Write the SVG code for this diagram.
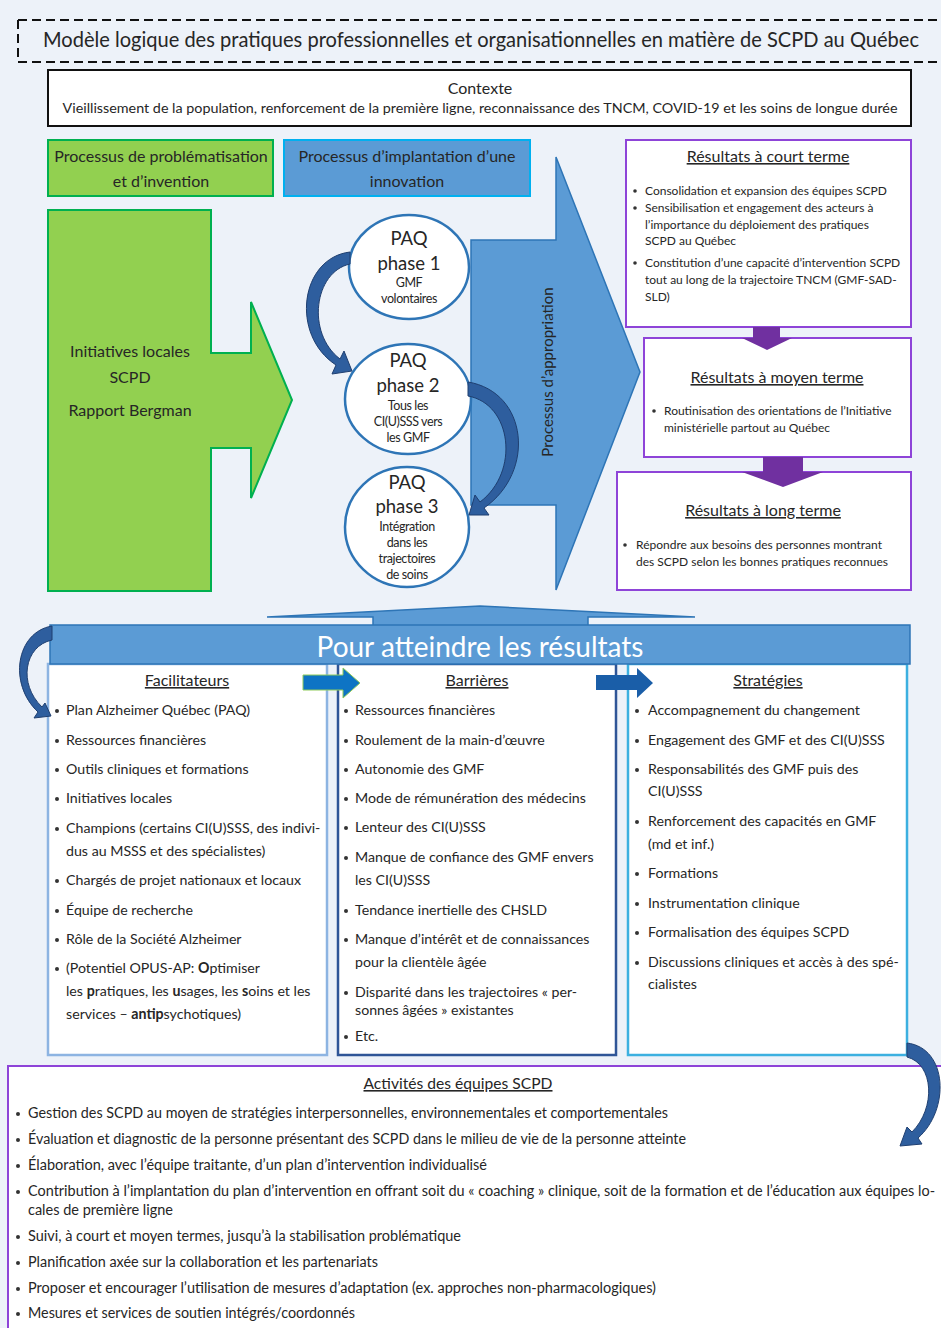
<svg xmlns="http://www.w3.org/2000/svg" width="941" height="1328" viewBox="0 0 941 1328">
<defs>
<style>
text{font-family:Lato,'Liberation Sans',sans-serif;fill:#262626}
.c{text-anchor:middle}
.li{font-size:14.2px}
.rs{font-size:12px}
.rt{font-size:16px;text-decoration:underline}
.ht{font-size:16px}
.act{font-size:14.5px}
.dot{fill:#333}
.circ{fill:#fff;stroke:#2E75B6;stroke-width:2.5}
.pa{font-size:18.5px}
.sm{font-size:12.5px;letter-spacing:-0.4px}
.res{fill:#fff;stroke:#8E44D8;stroke-width:2}
.curv{fill:#2E5E9E;stroke:#1F3F70;stroke-width:1}
.parr{fill:#7030A0}
.blue{fill:#5B9BD5;stroke:#2E75B6;stroke-width:1.5}
</style>
</defs>
<rect id="background" x="0" y="0" width="941" height="1328" fill="#EDF2F9"/>

<g id="title">
<path d="M18,20 H941 M18,62 H941 M18,20 V62" fill="none" stroke="#111" stroke-width="2" stroke-dasharray="9 5"/>
<text x="481" y="47" class="c" font-size="20.5" textLength="876" lengthAdjust="spacingAndGlyphs">Modèle logique des pratiques professionnelles et organisationnelles en matière de SCPD au Québec</text>
</g>

<g id="contexte">
<rect x="48" y="70" width="863" height="56" fill="#fff" stroke="#111" stroke-width="2"/>
<text x="480" y="94" class="c" font-size="16">Contexte</text>
<text x="480" y="113" class="c" font-size="14" textLength="835" lengthAdjust="spacingAndGlyphs">Vieillissement de la population, renforcement de la première ligne, reconnaissance des TNCM, COVID-19 et les soins de longue durée</text>
</g>

<g id="hdr-problematisation">
<rect x="48" y="140" width="225" height="56" fill="#92D050" stroke="#00B050" stroke-width="2"/>
<text x="161" y="162" class="c ht">Processus de problématisation</text>
<text x="161" y="187" class="c ht">et d’invention</text>
</g>

<g id="hdr-implantation">
<rect x="284" y="140" width="246" height="56" fill="#5B9BD5" stroke="#00B0F0" stroke-width="2"/>
<text x="407" y="162" class="c ht">Processus d’implantation d’une</text>
<text x="407" y="187" class="c ht">innovation</text>
</g>

<g id="initiatives">
<path d="M48,210 H211 V353 H251 V302 L292,400 L251,498 V448 H211 V591 H48 Z" fill="#92D050" stroke="#00B050" stroke-width="2"/>
<text x="130" y="357" class="c" font-size="16">Initiatives locales</text>
<text x="130" y="383" class="c" font-size="16">SCPD</text>
<text x="130" y="416" class="c" font-size="16">Rapport Bergman</text>
</g>

<g id="appropriation">
<path d="M471,240 H556 V157 L640,372 L556,590 V505 H471 Z" class="blue"/>
<text transform="translate(553,372) rotate(-90)" class="c" font-size="15">Processus d’appropriation</text>
</g>

<g id="paq1">
<ellipse cx="409" cy="267" rx="60" ry="52" class="circ"/>
<text x="409" y="245" class="c pa">PAQ</text>
<text x="409" y="270" class="c pa">phase 1</text>
<text x="409" y="287" class="c sm">GMF</text>
<text x="409" y="303" class="c sm">volontaires</text>
</g>

<g id="paq2">
<ellipse cx="408" cy="399" rx="63" ry="55" class="circ"/>
<text x="408" y="367" class="c pa">PAQ</text>
<text x="408" y="392" class="c pa">phase 2</text>
<text x="408" y="410" class="c sm">Tous les</text>
<text x="408" y="426" class="c sm">CI(U)SSS vers</text>
<text x="408" y="442" class="c sm">les GMF</text>
</g>

<g id="paq3">
<ellipse cx="407" cy="527" rx="62" ry="60" class="circ"/>
<text x="407" y="489" class="c pa">PAQ</text>
<text x="407" y="513" class="c pa">phase 3</text>
<text x="407" y="531" class="c sm">Intégration</text>
<text x="407" y="547" class="c sm">dans les</text>
<text x="407" y="563" class="c sm">trajectoires</text>
<text x="407" y="579" class="c sm">de soins</text>
</g>

<g id="court-terme">
<rect x="626" y="140" width="285" height="187" class="res"/>
<text x="768" y="162" class="c rt">Résultats à court terme</text>
<circle cx="635" cy="191" r="1.8" class="dot"/>
<text x="645" y="195" class="rs">Consolidation et expansion des équipes SCPD</text>
<circle cx="635" cy="208" r="1.8" class="dot"/>
<text x="645" y="212" class="rs">Sensibilisation et engagement des acteurs à</text>
<text x="645" y="229" class="rs">l’importance du déploiement des pratiques</text>
<text x="645" y="245" class="rs">SCPD au Québec</text>
<circle cx="635" cy="263" r="1.8" class="dot"/>
<text x="645" y="267" class="rs">Constitution d’une capacité d’intervention SCPD</text>
<text x="645" y="284" class="rs">tout au long de la trajectoire TNCM (GMF-SAD-</text>
<text x="645" y="301" class="rs">SLD)</text>
</g>

<g id="moyen-terme">
<rect x="644" y="338" width="267" height="119" class="res"/>
<text x="777" y="383" class="c rt">Résultats à moyen terme</text>
<circle cx="654" cy="411" r="1.8" class="dot"/>
<text x="664" y="415" class="rs">Routinisation des orientations de l’Initiative</text>
<text x="664" y="432" class="rs">ministérielle partout au Québec</text>
</g>

<g id="long-terme">
<rect x="617" y="472" width="294" height="118" class="res"/>
<text x="763" y="516" class="c rt">Résultats à long terme</text>
<circle cx="625" cy="545" r="1.8" class="dot"/>
<text x="636" y="549" class="rs">Répondre aux besoins des personnes montrant</text>
<text x="636" y="566" class="rs">des SCPD selon les bonnes pratiques reconnues</text>
</g>

<g id="facilitateurs">
<rect x="48" y="664" width="279" height="391" fill="#fff" stroke="#8DB4E2" stroke-width="2.5"/>
<text x="187" y="686" class="c ht" style="text-decoration:underline">Facilitateurs</text>
<circle cx="57" cy="711" r="2" class="dot"/><text x="66" y="715" class="li">Plan Alzheimer Québec (PAQ)</text>
<circle cx="57" cy="741" r="2" class="dot"/><text x="66" y="745" class="li">Ressources financières</text>
<circle cx="57" cy="770" r="2" class="dot"/><text x="66" y="774" class="li">Outils cliniques et formations</text>
<circle cx="57" cy="799" r="2" class="dot"/><text x="66" y="803" class="li">Initiatives locales</text>
<circle cx="57" cy="829" r="2" class="dot"/><text x="66" y="833" class="li">Champions (certains CI(U)SSS, des indivi-</text>
<text x="66" y="856" class="li">dus au MSSS et des spécialistes)</text>
<circle cx="57" cy="881" r="2" class="dot"/><text x="66" y="885" class="li">Chargés de projet nationaux et locaux</text>
<circle cx="57" cy="911" r="2" class="dot"/><text x="66" y="915" class="li">Équipe de recherche</text>
<circle cx="57" cy="940" r="2" class="dot"/><text x="66" y="944" class="li">Rôle de la Société Alzheimer</text>
<circle cx="57" cy="969" r="2" class="dot"/><text x="66" y="973" class="li">(Potentiel OPUS-AP: <tspan font-weight="bold">O</tspan>ptimiser</text>
<text x="66" y="996" class="li">les <tspan font-weight="bold">p</tspan>ratiques, les <tspan font-weight="bold">u</tspan>sages, les <tspan font-weight="bold">s</tspan>oins et les</text>
<text x="66" y="1019" class="li">services – <tspan font-weight="bold">antip</tspan>sychotiques)</text>
</g>

<g id="barrieres">
<rect x="338" y="664" width="278" height="391" fill="#fff" stroke="#2F5597" stroke-width="2.5"/>
<text x="477" y="686" class="c ht" style="text-decoration:underline">Barrières</text>
<circle cx="346" cy="711" r="2" class="dot"/><text x="355" y="715" class="li">Ressources financières</text>
<circle cx="346" cy="741" r="2" class="dot"/><text x="355" y="745" class="li">Roulement de la main-d’œuvre</text>
<circle cx="346" cy="770" r="2" class="dot"/><text x="355" y="774" class="li">Autonomie des GMF</text>
<circle cx="346" cy="799" r="2" class="dot"/><text x="355" y="803" class="li">Mode de rémunération des médecins</text>
<circle cx="346" cy="828" r="2" class="dot"/><text x="355" y="832" class="li">Lenteur des CI(U)SSS</text>
<circle cx="346" cy="858" r="2" class="dot"/><text x="355" y="862" class="li">Manque de confiance des GMF envers</text>
<text x="355" y="885" class="li">les CI(U)SSS</text>
<circle cx="346" cy="911" r="2" class="dot"/><text x="355" y="915" class="li">Tendance inertielle des CHSLD</text>
<circle cx="346" cy="940" r="2" class="dot"/><text x="355" y="944" class="li">Manque d’intérêt et de connaissances</text>
<text x="355" y="967" class="li">pour la clientèle âgée</text>
<circle cx="346" cy="993" r="2" class="dot"/><text x="355" y="997" class="li">Disparité dans les trajectoires « per-</text>
<text x="355" y="1015" class="li">sonnes âgées » existantes</text>
<circle cx="346" cy="1037" r="2" class="dot"/><text x="355" y="1041" class="li">Etc.</text>
</g>

<g id="strategies">
<rect x="628" y="664" width="279" height="391" fill="#fff" stroke="#3CB0E0" stroke-width="2.5"/>
<text x="768" y="686" class="c ht" style="text-decoration:underline">Stratégies</text>
<circle cx="637" cy="711" r="2" class="dot"/><text x="648" y="715" class="li">Accompagnement du changement</text>
<circle cx="637" cy="741" r="2" class="dot"/><text x="648" y="745" class="li">Engagement des GMF et des CI(U)SSS</text>
<circle cx="637" cy="770" r="2" class="dot"/><text x="648" y="774" class="li">Responsabilités des GMF puis des</text>
<text x="648" y="796" class="li">CI(U)SSS</text>
<circle cx="637" cy="822" r="2" class="dot"/><text x="648" y="826" class="li">Renforcement des capacités en GMF</text>
<text x="648" y="849" class="li">(md et inf.)</text>
<circle cx="637" cy="874" r="2" class="dot"/><text x="648" y="878" class="li">Formations</text>
<circle cx="637" cy="904" r="2" class="dot"/><text x="648" y="908" class="li">Instrumentation clinique</text>
<circle cx="637" cy="933" r="2" class="dot"/><text x="648" y="937" class="li">Formalisation des équipes SCPD</text>
<circle cx="637" cy="963" r="2" class="dot"/><text x="648" y="967" class="li">Discussions cliniques et accès à des spé-</text>
<text x="648" y="989" class="li">cialistes</text>
</g>

<g id="pour-atteindre">
<path d="M267,617 L480,606 L695,617 H588 V626 H373 V617 Z" class="blue"/>
<rect x="50" y="625" width="860" height="39" class="blue"/>
<text x="480" y="657" class="c" font-size="28" style="fill:#fff">Pour atteindre les résultats</text>
</g>

<g id="activites">
<rect x="8" y="1066" width="945" height="275" fill="#fff" stroke="#8E44D8" stroke-width="2"/>
<text x="458" y="1089" class="c" font-size="16" textLength="189" lengthAdjust="spacingAndGlyphs" style="text-decoration:underline">Activités des équipes SCPD</text>
<circle cx="18" cy="1114" r="2" class="dot"/><text x="28" y="1118" class="act" textLength="640" lengthAdjust="spacingAndGlyphs">Gestion des SCPD au moyen de stratégies interpersonnelles, environnementales et comportementales</text>
<circle cx="18" cy="1140" r="2" class="dot"/><text x="28" y="1144" class="act" textLength="658" lengthAdjust="spacingAndGlyphs">Évaluation et diagnostic de la personne présentant des SCPD dans le milieu de vie de la personne atteinte</text>
<circle cx="18" cy="1166" r="2" class="dot"/><text x="28" y="1170" class="act" textLength="459" lengthAdjust="spacingAndGlyphs">Élaboration, avec l’équipe traitante, d’un plan d’intervention individualisé</text>
<circle cx="18" cy="1192" r="2" class="dot"/><text x="28" y="1196" class="act" textLength="907" lengthAdjust="spacingAndGlyphs">Contribution à l’implantation du plan d’intervention en offrant soit du « coaching » clinique, soit de la formation et de l’éducation aux équipes lo-</text>
<text x="28" y="1215" class="act" textLength="145" lengthAdjust="spacingAndGlyphs">cales de première ligne</text>
<circle cx="18" cy="1237" r="2" class="dot"/><text x="28" y="1241" class="act" textLength="433" lengthAdjust="spacingAndGlyphs">Suivi, à court et moyen termes, jusqu’à la stabilisation problématique</text>
<circle cx="18" cy="1263" r="2" class="dot"/><text x="28" y="1267" class="act" textLength="350" lengthAdjust="spacingAndGlyphs">Planification axée sur la collaboration et les partenariats</text>
<circle cx="18" cy="1289" r="2" class="dot"/><text x="28" y="1293" class="act" textLength="628" lengthAdjust="spacingAndGlyphs">Proposer et encourager l’utilisation de mesures d’adaptation (ex. approches non-pharmacologiques)</text>
<circle cx="18" cy="1314" r="2" class="dot"/><text x="28" y="1318" class="act" textLength="327" lengthAdjust="spacingAndGlyphs">Mesures et services de soutien intégrés/coordonnés</text>
</g>

<g id="connectors">
<path d="M350,252 C300,258 290,335 336,365 L332,374 L352,371 L344,351 L340,359 C306,333 314,272 350,264 Z" class="curv"/>
<path d="M468,382 C528,392 536,472 484,508 L489,515 L469,515 L475,495 L480,502 C520,472 512,404 468,396 Z" class="curv"/>
<path d="M753,327 H780 V338 H792 L767,350 L742,338 H753 Z" class="parr"/>
<path d="M763,457 H803 V472 H823 L783,487 L742,472 H763 Z" class="parr"/>
<path d="M52,626 C16,632 8,684 38,712 L34,718 L51,716 L45,703 L42,707 C18,684 24,646 52,640 Z" class="curv"/>
<path d="M303,675 H343 V668 L360,683 L343,698 V690 H303 Z" fill="#0E74C4" stroke="#8FCB5A" stroke-width="1"/>
<path d="M596,675 H637 V668 L653,683 L637,698 V690 H596 Z" fill="#1A5EA8"/>
<path d="M907,1043 C948,1048 950,1110 918,1138 L922,1144 L900,1146 L907,1127 L912,1132 C936,1108 934,1064 907,1057 Z" class="curv"/>
</g>
</svg>
